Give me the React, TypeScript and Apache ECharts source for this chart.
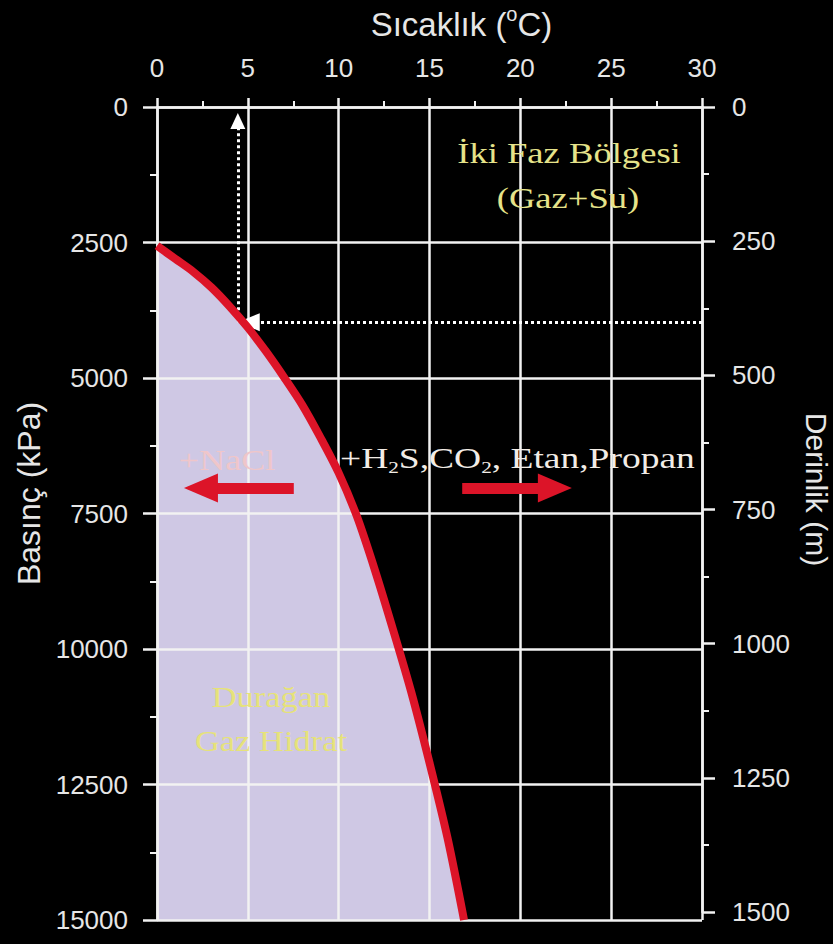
import React, { useEffect, useRef } from 'react';
import * as echarts from 'echarts';

// Axis ticks
const TEMP_TICKS = [0, 5, 10, 15, 20, 25, 30];
const PRESSURE_TICKS = [0, 2500, 5000, 7500, 10000, 12500, 15000];
const DEPTH_TICKS = [0, 250, 500, 750, 1000, 1250, 1500];

// Hydrate stability curve (temperature °C, pressure kPa)
const CURVE_TEMP = [0, 1, 2, 3, 4, 5, 6, 7, 8, 9, 10, 11, 12, 13, 14, 15, 16, 16.9];
const CURVE_PRESSURE = [2560, 2800, 3040, 3330, 3680, 4070, 4510, 4990, 5500, 6100, 6750, 7550, 8550, 9650, 10800, 12100, 13500, 15000];

// Reading example (400 m -> ~3970 kPa -> ~4.45 °C)
const MARK_TEMP = 4.45;
const MARK_PRESSURE = 3970;
const MARK_TOP_PRESSURE = 260;
const MARK_HEAD_TEMP = 5.05;

// Shift arrows (temperature from -> to, at pressure)
const SALT_ARROW = [7.53, 2.42];
const GAS_ARROW = [16.8, 21.9];
const SHIFT_ARROW_PRESSURE = 7030;

const AXIS = '#f2f2f2';
const LABEL = '#e6e6e6';
const RED = '#dc1428';
const FILL = '#cfc8e4';
const SANS = '"Liberation Sans", Arial, sans-serif';
const SERIF = '"Liberation Serif", "Times New Roman", serif';

export default function App() {
  const ref = useRef<HTMLDivElement>(null);

  useEffect(() => {
    if (!ref.current) return;
    const chart = echarts.init(ref.current, null, { renderer: 'svg' });
    const curve = CURVE_TEMP.map((t, i) => [t, CURVE_PRESSURE[i]]);
    const tick = (len: number) => ({ show: true, length: len, lineStyle: { color: AXIS, width: 2.5 } });
    const minor = (len: number) => ({ show: true, splitNumber: 2, length: len, lineStyle: { color: AXIS, width: 2 } });
    const axLabel = (margin: number) => ({
      color: LABEL, fontSize: 26, fontFamily: SANS, margin,
      formatter: (v: number) => String(v),
    });

    const option: any = {
      animation: false,
      backgroundColor: '#000',
      grid: [
        { left: 157, right: 131, top: 107, bottom: 24, outerBoundsMode: 'none', containLabel: false },
        { left: 157, right: 131, top: 107, bottom: 32, outerBoundsMode: 'none', containLabel: false },
      ],
      xAxis: [
        {
          gridIndex: 0,
          type: 'value',
          position: 'top',
          min: TEMP_TICKS[0],
          max: TEMP_TICKS[TEMP_TICKS.length - 1],
          interval: TEMP_TICKS[1] - TEMP_TICKS[0],
          name: 'Sıcaklık ({sup|o}C)',
          nameLocation: 'middle',
          nameGap: 63,
          nameTextStyle: {
            color: LABEL, fontSize: 33, fontFamily: SANS, padding: [0, 0, 0, 64], lineHeight: 40,
            rich: { sup: { color: LABEL, fontSize: 20, fontFamily: SANS, lineHeight: 24, verticalAlign: 'top' } },
          },
          axisLine: { show: true, onZero: false, lineStyle: { color: AXIS, width: 2.5 } },
          axisTick: tick(9),
          minorTick: minor(6),
          axisLabel: axLabel(26),
          splitLine: { show: true, lineStyle: { color: AXIS, width: 2.5 } },
        },
        { gridIndex: 1, type: 'value', min: 0, max: 30, show: false },
      ],
      yAxis: [
        {
          gridIndex: 0,
          type: 'value',
          inverse: true,
          min: PRESSURE_TICKS[0],
          max: PRESSURE_TICKS[PRESSURE_TICKS.length - 1],
          interval: PRESSURE_TICKS[1] - PRESSURE_TICKS[0],
          name: 'Basınç (kPa)',
          nameLocation: 'middle',
          nameGap: 112,
          nameTextStyle: { color: LABEL, fontSize: 32, fontFamily: SANS, padding: [0, 0, 0, 40] },
          axisLine: { show: true, onZero: false, lineStyle: { color: AXIS, width: 2.5 } },
          axisTick: tick(14),
          minorTick: minor(7),
          axisLabel: axLabel(29),
          splitLine: { show: true, lineStyle: { color: AXIS, width: 2.5 } },
        },
        {
          gridIndex: 1,
          type: 'value',
          position: 'right',
          inverse: true,
          min: DEPTH_TICKS[0],
          max: DEPTH_TICKS[DEPTH_TICKS.length - 1],
          interval: DEPTH_TICKS[1] - DEPTH_TICKS[0],
          name: 'Derinlik (m)',
          nameLocation: 'middle',
          nameRotate: -90,
          nameGap: 93,
          nameTextStyle: { color: LABEL, fontSize: 30, fontFamily: SANS, lineHeight: 32, padding: [0, 40, 0, 0] },
          axisLine: { show: true, onZero: false, lineStyle: { color: AXIS, width: 2.5 } },
          axisTick: tick(13),
          minorTick: minor(7),
          axisLabel: axLabel(30),
          splitLine: { show: false },
        },
      ],
      series: [
        {
          type: 'line',
          xAxisIndex: 0,
          yAxisIndex: 0,
          data: curve,
          smooth: 0.3,
          showSymbol: false,
          silent: true,
          z: -1,
          lineStyle: { width: 0 },
          areaStyle: { color: FILL, opacity: 1, origin: 'end' },
          emphasis: { disabled: true },
        },
        {
          type: 'line',
          xAxisIndex: 0,
          yAxisIndex: 0,
          data: curve,
          smooth: 0.3,
          showSymbol: false,
          silent: true,
          z: 5,
          lineStyle: { width: 8, color: RED, cap: 'butt' },
          emphasis: { disabled: true },
          markLine: {
            silent: true,
            animation: false,
            label: { show: false },
            emphasis: { disabled: true },
            data: [
              [
                { coord: [MARK_TEMP, MARK_PRESSURE], symbol: 'none', lineStyle: { color: '#ffffff', width: 3, type: [3, 3] } },
                { coord: [MARK_TEMP, MARK_TOP_PRESSURE], symbol: 'triangle', symbolSize: [15, 16] },
              ],
              [
                { coord: [TEMP_TICKS[TEMP_TICKS.length - 1], MARK_PRESSURE], symbol: 'none', lineStyle: { color: '#ffffff', width: 3, type: [3, 3] } },
                { coord: [MARK_HEAD_TEMP, MARK_PRESSURE], symbol: 'triangle', symbolSize: [18, 22] },
              ],
              [
                { coord: [SALT_ARROW[0], SHIFT_ARROW_PRESSURE], symbol: 'none', lineStyle: { color: RED, width: 11, type: 'solid' } },
                { coord: [SALT_ARROW[1], SHIFT_ARROW_PRESSURE], symbol: 'triangle', symbolSize: [29, 34] },
              ],
              [
                { coord: [GAS_ARROW[0], SHIFT_ARROW_PRESSURE], symbol: 'none', lineStyle: { color: RED, width: 11, type: 'solid' } },
                { coord: [GAS_ARROW[1], SHIFT_ARROW_PRESSURE], symbol: 'triangle', symbolSize: [29, 34] },
              ],
            ],
          },
        },
      ],
      graphic: [
        {
          type: 'text', x: 569, y: 153, scaleX: 1.22, z: 10, silent: true,
          style: { text: 'İki Faz Bölgesi', fontSize: 30, fontFamily: SERIF, fill: '#e6e38a', align: 'center', verticalAlign: 'middle' },
        },
        {
          type: 'text', x: 568, y: 198, scaleX: 1.22, z: 10, silent: true,
          style: { text: '(Gaz+Su)', fontSize: 30, fontFamily: SERIF, fill: '#e6e38a', align: 'center', verticalAlign: 'middle' },
        },
        {
          type: 'text', x: 227, y: 460, scaleX: 1.2, z: 10, silent: true,
          style: { text: '+NaCl', fontSize: 30, fontFamily: SERIF, fill: '#efc6ca', align: 'center', verticalAlign: 'middle' },
        },
        {
          type: 'text', x: 340, y: 458, scaleX: 1.25, z: 10, silent: true,
          style: {
            text: '+H{sub|2}S,CO{sub|2}, Etan,Propan',
            fontSize: 30, fontFamily: SERIF, fill: '#f2ece6', align: 'left', verticalAlign: 'middle', lineHeight: 36,
            rich: { sub: { fontSize: 17, fontFamily: SERIF, fill: '#f2ece6', lineHeight: 20, verticalAlign: 'bottom' } },
          },
        },
        {
          type: 'text', x: 271, y: 697, scaleX: 1.15, z: 10, silent: true,
          style: { text: 'Durağan', fontSize: 30, fontFamily: SERIF, fill: '#e6e27a', align: 'center', verticalAlign: 'middle' },
        },
        {
          type: 'text', x: 271, y: 741, scaleX: 1.15, z: 10, silent: true,
          style: { text: 'Gaz Hidrat', fontSize: 30, fontFamily: SERIF, fill: '#e6e27a', align: 'center', verticalAlign: 'middle' },
        },
      ],
    };

    chart.setOption(option);
    return () => chart.dispose();
  }, []);

  return (
    <div
      ref={ref}
      style={{ position: 'fixed', left: 0, top: 0, width: 833, height: 944, background: '#000' }}
    />
  );
}
